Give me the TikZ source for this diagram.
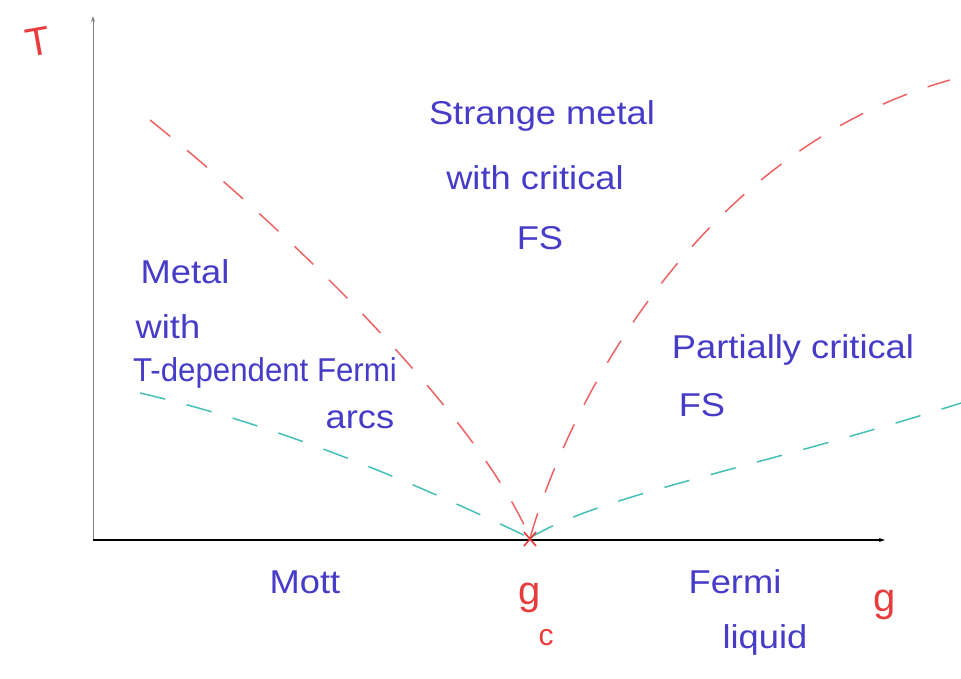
\documentclass[tikz,border=0pt]{standalone}
\usepackage{fontspec}
\setmainfont{Liberation Sans}
\usetikzlibrary{arrows.meta}
\definecolor{hred}{RGB}{232,60,60}
\definecolor{hblue}{RGB}{70,60,200}
\definecolor{hcyan}{RGB}{50,185,175}
\begin{document}
\begin{tikzpicture}[x=1pt,y=-1pt,
  lbl/.style={text=hblue,font=\fontsize{33}{36}\selectfont,inner sep=0pt,xscale=1.1},
  rlbl/.style={text=hred,font=\fontsize{40}{42}\selectfont,inner sep=0pt},
  rdash/.style={draw=hred,line width=1.5pt,dash pattern=on 26pt off 22pt,opacity=0.8},
  cdash/.style={draw=hcyan,line width=1.5pt,dash pattern=on 26pt off 22pt,opacity=0.9},
  axis/.style={-{Stealth[length=6pt,width=4pt]}}]
\useasboundingbox (0,0) rectangle (961,678);
\fill[white] (0,0) rectangle (961,678);
% axes
\coordinate (O) at (93,540);
\coordinate (ytop) at (93,16);
\coordinate (xend) at (885,540);
\draw[axis,draw=gray,line width=1pt] (O) -- (ytop);
\draw[axis,draw=black,line width=1.6pt] (O) -- (xend);
% critical point
\coordinate (gc) at (530,538);
% red dashed crossover lines
\coordinate (rl) at (150,120);
\coordinate (rr) at (950,80);
\draw[rdash] (rl) .. controls (300,240) and (480,420) .. (gc);
\draw[rdash] (gc) .. controls (570,400) and (700,150) .. (rr);
% cyan dashed lines
\coordinate (cl) at (140,393);
\coordinate (cr) at (961,403);
\draw[cdash] (cl) .. controls (300,430) and (450,500) .. (gc);
\draw[cdash] (gc) .. controls (600,495) and (750,470) .. (cr);
% cross at critical point
\draw[hred,line width=1.6pt] (524,532) -- (536,546) (536,532) -- (524,546);
% labels
\node[rlbl,rotate=10] (T) at (38,42) {T};
\node[lbl] (s1) at (542,116) {Strange metal};
\node[lbl] (s2) at (535,178) {with critical};
\node[lbl] (s3) at (540,238) {FS};
\node[lbl] (m1) at (185,272) {Metal};
\node[lbl] (m2) at (168,327) {with};
\node[lbl,xscale=0.86] (m3) at (265,373) {T-dependent Fermi};
\node[lbl] (m4) at (360,420) {arcs};
\node[lbl] (p1) at (793,350) {Partially critical};
\node[lbl] (p2) at (702,405) {FS};
\node[lbl] (mott) at (305,582) {Mott};
\node[lbl] (f1) at (735,582) {Fermi};
\node[lbl] (f2) at (765,640) {liquid};
\node[rlbl] (gcl) at (530,598) {g};
\node[text=hred,font=\fontsize{30}{32}\selectfont,inner sep=0pt] (csub) at (546,638) {c};
\node[rlbl] (gl) at (885,605) {g};
\end{tikzpicture}
\end{document}
